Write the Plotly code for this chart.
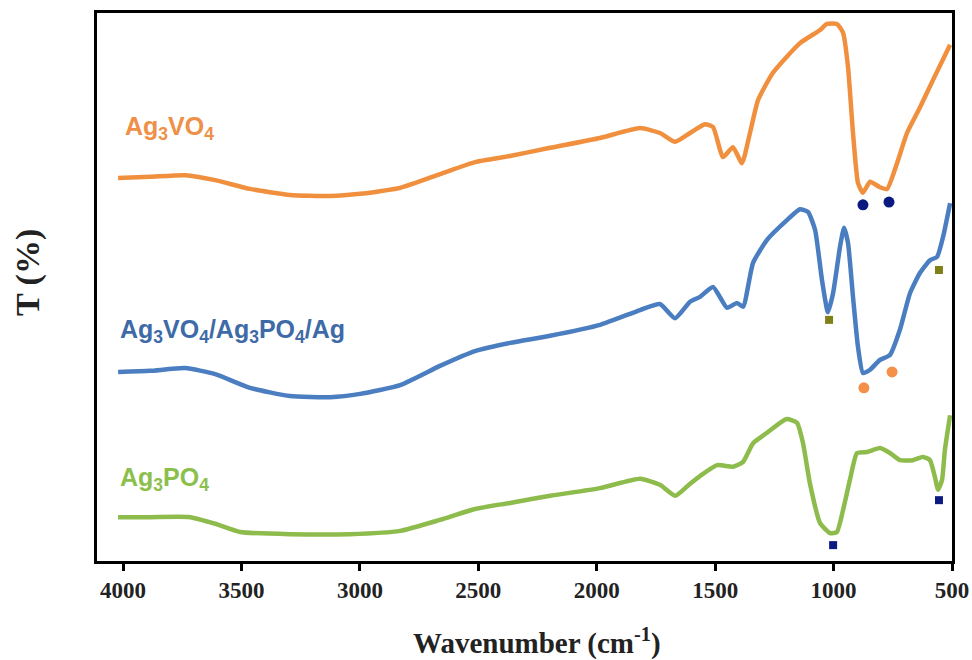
import plotly.graph_objects as go

# FTIR spectra, offset vertically (arbitrary transmittance units)
wn_vo = [4021, 3886, 3738, 3611, 3464, 3295, 3126, 2999, 2830, 2662, 2514, 2366, 2197, 1986,
         1817, 1733, 1669, 1606, 1543, 1509, 1467, 1425, 1387, 1353, 1319, 1256, 1142, 1057,
         1028, 986, 960, 939, 918, 897, 876, 846, 804, 774, 732, 690, 635, 580, 508]
t_vo = [69.9, 70.1, 70.4, 69.5, 67.9, 66.8, 66.6, 67.0, 68.1, 70.6, 72.8, 73.9, 75.4, 77.2,
        79.0, 78.1, 76.5, 78.1, 79.7, 79.2, 73.7, 75.5, 72.6, 78.1, 84.1, 89.1, 94.5, 96.9,
        98.0, 98.0, 96.4, 90.1, 78.1, 69.0, 67.2, 69.2, 68.2, 67.9, 72.6, 78.1, 82.8, 87.8, 94.2]

wn_comp = [4021, 3886, 3738, 3611, 3464, 3295, 3126, 2999, 2830, 2662, 2514, 2366, 2197, 1986,
           1817, 1733, 1669, 1606, 1564, 1509, 1450, 1408, 1382, 1340, 1281, 1197, 1142, 1108,
           1078, 1049, 1024, 1002, 973, 956, 939, 918, 897, 876, 846, 804, 762, 720, 677, 635,
           593, 563, 538, 508]
t_comp = [34.5, 34.7, 35.2, 34.1, 31.6, 30.1, 29.9, 30.5, 32.1, 35.6, 38.3, 39.8, 41.1, 43.1,
          45.8, 46.9, 44.3, 47.3, 48.2, 50.0, 46.2, 47.1, 46.4, 54.4, 58.6, 62.2, 64.2, 63.7,
          60.4, 51.3, 45.4, 48.9, 57.3, 60.8, 58.0, 48.2, 39.1, 34.3, 34.9, 36.7, 37.6, 42.2,
          48.9, 52.6, 54.9, 55.5, 59.1, 65.3]

wn_po = [4021, 3886, 3717, 3611, 3506, 3295, 3042, 2830, 2662, 2514, 2366, 2197, 1986, 1817,
         1733, 1669, 1606, 1564, 1492, 1425, 1382, 1340, 1281, 1226, 1197, 1154, 1129, 1100,
         1057, 1015, 986, 960, 931, 901, 859, 804, 762, 720, 665, 622, 593, 572, 559, 542, 530, 508]
t_po = [8.0, 8.0, 8.0, 6.8, 5.3, 4.9, 4.9, 5.5, 7.5, 9.5, 10.6, 11.9, 13.3, 15.0,
        13.9, 11.9, 14.1, 15.5, 17.5, 17.2, 18.1, 21.5, 23.4, 25.2, 25.9, 25.2, 21.5, 14.2,
        6.9, 5.1, 5.3, 9.3, 14.8, 19.7, 19.9, 20.6, 19.7, 18.4, 18.4, 19.0, 18.4, 15.3, 13.0,
        14.8, 20.3, 26.6]

# band markers
vo_band_wn = [876, 766]
vo_band_t = [65.0, 65.5]
comp_vo_wn = [872, 753]
comp_vo_t = [31.6, 34.5]
comp_po_wn = [1019, 555]
comp_po_t = [44.0, 53.1]
po_band_wn = [1002, 555]
po_band_t = [2.9, 11.1]

x_ticks = [4000, 3500, 3000, 2500, 2000, 1500, 1000, 500]

ORANGE = "#F0903F"
BLUE = "#4A7EC0"
GREEN = "#8DBB4C"
NAVY = "#0A1A80"
OLIVE = "#7F8018"

fig = go.Figure()

for wn, t, col in [(wn_vo, t_vo, ORANGE), (wn_comp, t_comp, BLUE), (wn_po, t_po, GREEN)]:
    fig.add_trace(go.Scatter(x=wn, y=t, mode="lines",
                             line=dict(color=col, width=4.5, shape="spline", smoothing=0.5),
                             showlegend=False, hoverinfo="skip"))

fig.add_trace(go.Scatter(x=vo_band_wn, y=vo_band_t, mode="markers",
                         marker=dict(symbol="circle", size=11, color=NAVY), showlegend=False))
fig.add_trace(go.Scatter(x=comp_vo_wn, y=comp_vo_t, mode="markers",
                         marker=dict(symbol="circle", size=11, color="#F4904A"), showlegend=False))
fig.add_trace(go.Scatter(x=comp_po_wn, y=comp_po_t, mode="markers",
                         marker=dict(symbol="square", size=8, color=OLIVE), showlegend=False))
fig.add_trace(go.Scatter(x=po_band_wn, y=po_band_t, mode="markers",
                         marker=dict(symbol="square", size=8, color=NAVY), showlegend=False))

label_font = "Liberation Sans, Arial, sans-serif"
fig.add_annotation(x=4000, y=79.0, text="<b>Ag<sub>3</sub>VO<sub>4</sub></b>",
                   xanchor="left", yanchor="middle", showarrow=False,
                   font=dict(family=label_font, size=25, color="#EE9048"))
fig.add_annotation(x=4021, y=42.0,
                   text="<b>Ag<sub>3</sub>VO<sub>4</sub>/Ag<sub>3</sub>PO<sub>4</sub>/Ag</b>",
                   xanchor="left", yanchor="middle", showarrow=False,
                   font=dict(family=label_font, size=25, color="#3E6AA8"))
fig.add_annotation(x=4021, y=15.0, text="<b>Ag<sub>3</sub>PO<sub>4</sub></b>",
                   xanchor="left", yanchor="middle", showarrow=False,
                   font=dict(family=label_font, size=25, color="#8CC04C"))

serif = "Liberation Serif, Times New Roman, serif"
# axis titles
fig.add_annotation(xref="paper", yref="paper", x=0.515, y=-0.146,
                   text="<b>Wavenumber (cm<sup>-1</sup>)</b>", showarrow=False,
                   xanchor="center", yanchor="middle",
                   font=dict(family=serif, size=29, color="#222"))
fig.add_annotation(xref="paper", yref="paper", x=-0.081, y=0.527,
                   text="<b>T (%)</b>", showarrow=False, textangle=-90,
                   xanchor="center", yanchor="middle",
                   font=dict(family=serif, size=34, color="#222"))

fig.update_xaxes(range=[4110, 500], tickvals=x_ticks,
                 ticktext=[f"<b>{v}</b>" for v in x_ticks],
                 ticks="outside", ticklen=7, tickwidth=2.5, tickcolor="black",
                 tickfont=dict(family=serif, size=23, color="#222"),
                 showline=True, linewidth=2.5, linecolor="black", mirror=True,
                 showgrid=False, zeroline=False, automargin=False)
fig.update_yaxes(range=[0, 100], showticklabels=False, ticks="",
                 showline=True, linewidth=2.5, linecolor="black", mirror=True,
                 showgrid=False, zeroline=False, automargin=False)

fig.update_layout(width=972, height=660, margin=dict(l=97, r=20, t=13, b=99),
                  plot_bgcolor="white", paper_bgcolor="white")

fig.write_html("out.html")
